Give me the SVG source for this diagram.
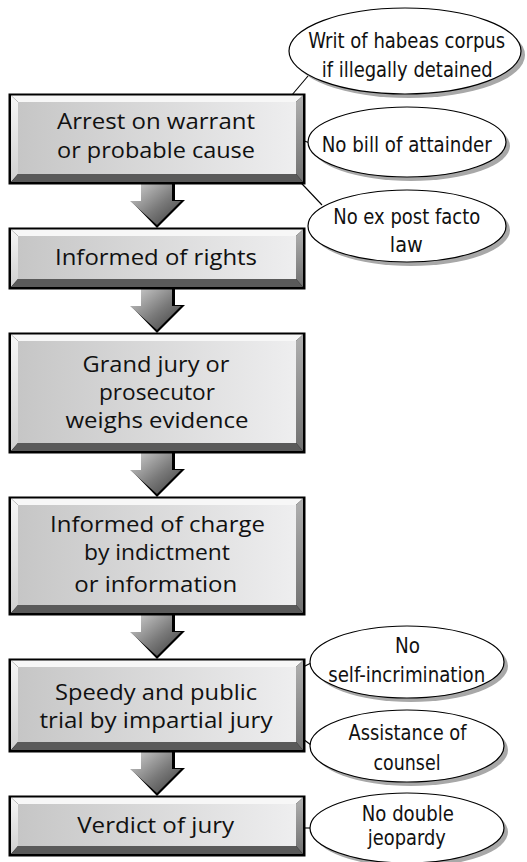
<svg xmlns="http://www.w3.org/2000/svg" xmlns:xlink="http://www.w3.org/1999/xlink" width="527" height="862" viewBox="0 0 527 862">
<defs>
<linearGradient id="face" x1="0" y1="0" x2="1" y2="0">
<stop offset="0" stop-color="#c6c6c6"/>
<stop offset="1" stop-color="#eeeeef"/>
</linearGradient>
<linearGradient id="lbev" x1="0" y1="0" x2="0" y2="1">
<stop offset="0" stop-color="#f6f6f6"/>
<stop offset="1" stop-color="#d0d0d0"/>
</linearGradient>
<linearGradient id="rbev" x1="0" y1="0" x2="0" y2="1">
<stop offset="0" stop-color="#b0b0b0"/>
<stop offset="1" stop-color="#707070"/>
</linearGradient>
<linearGradient id="arr" x1="0" y1="0" x2="1" y2="1">
<stop offset="0" stop-color="#d2d2d2"/>
<stop offset="0.55" stop-color="#7a7a7a"/>
<stop offset="1" stop-color="#3e3e3e"/>
</linearGradient>
<g id="arrow">
<polygon points="143,0 175,0 175,16 185,16 157,44 131,17 141,17" fill="#000"/>
<polygon points="141,0 172,0 172,17 181,17 157,41 130,17 141,17" fill="url(#arr)"/>
</g>
<style>
.bt{font-family:"Open Sans","Noto Sans","DejaVu Sans",sans-serif;font-size:22.5px;fill:#111;text-anchor:middle}
.et{font-family:"Liberation Sans Narrow","DejaVu Sans Condensed","Liberation Sans",sans-serif;font-size:22px;fill:#111;text-anchor:middle}
.ell{fill:#fff;stroke:#000;stroke-width:1.2}
.esh{fill:#a8a8a8}
.ln{stroke:#000;stroke-width:1.1;fill:none}
.blk{fill:#000}
.top{fill:#f7f7f7}
.lb{fill:url(#lbev)}
.rb{fill:url(#rbev)}
.bb{fill:#5a5a5a}
.fc{fill:url(#face)}
</style>
</defs>
<rect width="527" height="862" fill="#fff"/>

<g id="connectors">
<use xlink:href="#arrow" transform="translate(0,184)"/>
<use xlink:href="#arrow" transform="translate(0,289)"/>
<use xlink:href="#arrow" transform="translate(0,453)"/>
<use xlink:href="#arrow" transform="translate(0,615)"/>
<use xlink:href="#arrow" transform="translate(0,752)"/>
<line class="ln" x1="286" y1="102" x2="308" y2="76"/>
<line class="ln" x1="287" y1="135" x2="310" y2="143"/>
<line class="ln" x1="287" y1="168" x2="322" y2="205"/>
<line class="ln" x1="287" y1="675" x2="311" y2="663"/>
<line class="ln" x1="287" y1="727" x2="311" y2="745"/>
<line class="ln" x1="287" y1="828" x2="310" y2="828"/>
</g>

<g id="box1">
<rect class="blk" x="8.5" y="93.5" width="297" height="91"/>
<polygon class="top" points="11,95.5 303,95.5 296,102 18,102"/>
<polygon class="lb" points="11,95.5 18,102 18,174 11,182"/>
<polygon class="rb" points="303,95.5 303,182 296,174 296,102"/>
<polygon class="bb" points="11,182 303,182 296,174 18,174"/>
<rect class="fc" x="18" y="102" width="278" height="72"/>
<text class="bt" x="156" y="129.3" textLength="198" lengthAdjust="spacingAndGlyphs">Arrest on warrant</text>
<text class="bt" x="156" y="158" textLength="198" lengthAdjust="spacingAndGlyphs">or probable cause</text>
</g>

<g id="box2">
<rect class="blk" x="8.5" y="227.5" width="297" height="62"/>
<polygon class="top" points="11,229.5 303,229.5 296,236 18,236"/>
<polygon class="lb" points="11,229.5 18,236 18,279 11,287"/>
<polygon class="rb" points="303,229.5 303,287 296,279 296,236"/>
<polygon class="bb" points="11,287 303,287 296,279 18,279"/>
<rect class="fc" x="18" y="236" width="278" height="43"/>
<text class="bt" x="156" y="265" textLength="202" lengthAdjust="spacingAndGlyphs">Informed of rights</text>
</g>

<g id="box3">
<rect class="blk" x="8.5" y="332.5" width="297" height="121"/>
<polygon class="top" points="11,334.5 303,334.5 296,341 18,341"/>
<polygon class="lb" points="11,334.5 18,341 18,443 11,451"/>
<polygon class="rb" points="303,334.5 303,451 296,443 296,341"/>
<polygon class="bb" points="11,451 303,451 296,443 18,443"/>
<rect class="fc" x="18" y="341" width="278" height="102"/>
<text class="bt" x="156" y="371.7" textLength="147" lengthAdjust="spacingAndGlyphs">Grand jury or</text>
<text class="bt" x="157" y="400" textLength="116" lengthAdjust="spacingAndGlyphs">prosecutor</text>
<text class="bt" x="157" y="428.3" textLength="183" lengthAdjust="spacingAndGlyphs">weighs evidence</text>
</g>

<g id="box4">
<rect class="blk" x="8.5" y="496.5" width="297" height="119"/>
<polygon class="top" points="11,498.5 303,498.5 296,505 18,505"/>
<polygon class="lb" points="11,498.5 18,505 18,605 11,613"/>
<polygon class="rb" points="303,498.5 303,613 296,605 296,505"/>
<polygon class="bb" points="11,613 303,613 296,605 18,605"/>
<rect class="fc" x="18" y="505" width="278" height="100"/>
<text class="bt" x="157.5" y="531.7" textLength="215" lengthAdjust="spacingAndGlyphs">Informed of charge</text>
<text class="bt" x="157" y="560" textLength="146" lengthAdjust="spacingAndGlyphs">by indictment</text>
<text class="bt" x="155.7" y="591.7" textLength="163" lengthAdjust="spacingAndGlyphs">or information</text>
</g>

<g id="box5">
<rect class="blk" x="8.5" y="658.5" width="297" height="94"/>
<polygon class="top" points="11,660.5 303,660.5 296,667 18,667"/>
<polygon class="lb" points="11,660.5 18,667 18,742 11,750"/>
<polygon class="rb" points="303,660.5 303,750 296,742 296,667"/>
<polygon class="bb" points="11,750 303,750 296,742 18,742"/>
<rect class="fc" x="18" y="667" width="278" height="75"/>
<text class="bt" x="156" y="700" textLength="202" lengthAdjust="spacingAndGlyphs">Speedy and public</text>
<text class="bt" x="156" y="728.3" textLength="233" lengthAdjust="spacingAndGlyphs">trial by impartial jury</text>
</g>

<g id="box6">
<rect class="blk" x="8.5" y="795.5" width="297" height="61"/>
<polygon class="top" points="11,797.5 303,797.5 296,804 18,804"/>
<polygon class="lb" points="11,797.5 18,804 18,846 11,854"/>
<polygon class="rb" points="303,797.5 303,854 296,846 296,804"/>
<polygon class="bb" points="11,854 303,854 296,846 18,846"/>
<rect class="fc" x="18" y="804" width="278" height="42"/>
<text class="bt" x="155.7" y="833.3" textLength="157" lengthAdjust="spacingAndGlyphs">Verdict of jury</text>
</g>

<g id="e1">
<ellipse class="esh" cx="409" cy="55" rx="116" ry="43"/>
<ellipse class="ell" cx="405" cy="51" rx="116" ry="43"/>
<text class="et" x="406.7" y="48.3" textLength="197" lengthAdjust="spacingAndGlyphs">Writ of habeas corpus</text>
<text class="et" x="407.2" y="77" textLength="171" lengthAdjust="spacingAndGlyphs">if illegally detained</text>
</g>

<g id="e2">
<ellipse class="esh" cx="411" cy="146" rx="99" ry="35"/>
<ellipse class="ell" cx="407" cy="142" rx="99" ry="35"/>
<text class="et" x="406.7" y="151.7" textLength="170" lengthAdjust="spacingAndGlyphs">No bill of attainder</text>
</g>

<g id="e3">
<ellipse class="esh" cx="411" cy="230" rx="99" ry="36"/>
<ellipse class="ell" cx="407" cy="226" rx="99" ry="36"/>
<text class="et" x="406.7" y="224" textLength="147" lengthAdjust="spacingAndGlyphs">No ex post facto</text>
<text class="et" x="406.3" y="251.7" textLength="33" lengthAdjust="spacingAndGlyphs">law</text>
</g>

<g id="e4">
<ellipse class="esh" cx="411" cy="666" rx="97" ry="36"/>
<ellipse class="ell" cx="407" cy="662" rx="97" ry="36"/>
<text class="et" x="407.5" y="652.7" textLength="25" lengthAdjust="spacingAndGlyphs">No</text>
<text class="et" x="406.7" y="681.7" textLength="157" lengthAdjust="spacingAndGlyphs">self-incrimination</text>
</g>

<g id="e5">
<ellipse class="esh" cx="411" cy="750" rx="97" ry="36"/>
<ellipse class="ell" cx="407" cy="746" rx="97" ry="36"/>
<text class="et" x="407.5" y="740" textLength="118" lengthAdjust="spacingAndGlyphs">Assistance of</text>
<text class="et" x="407" y="770" textLength="67" lengthAdjust="spacingAndGlyphs">counsel</text>
</g>

<g id="e6">
<ellipse class="esh" cx="411" cy="832" rx="97" ry="35"/>
<ellipse class="ell" cx="407" cy="828" rx="97" ry="35"/>
<text class="et" x="407.8" y="820.5" textLength="92" lengthAdjust="spacingAndGlyphs">No double</text>
<text class="et" x="406.8" y="845" textLength="78" lengthAdjust="spacingAndGlyphs">jeopardy</text>
</g>
</svg>
